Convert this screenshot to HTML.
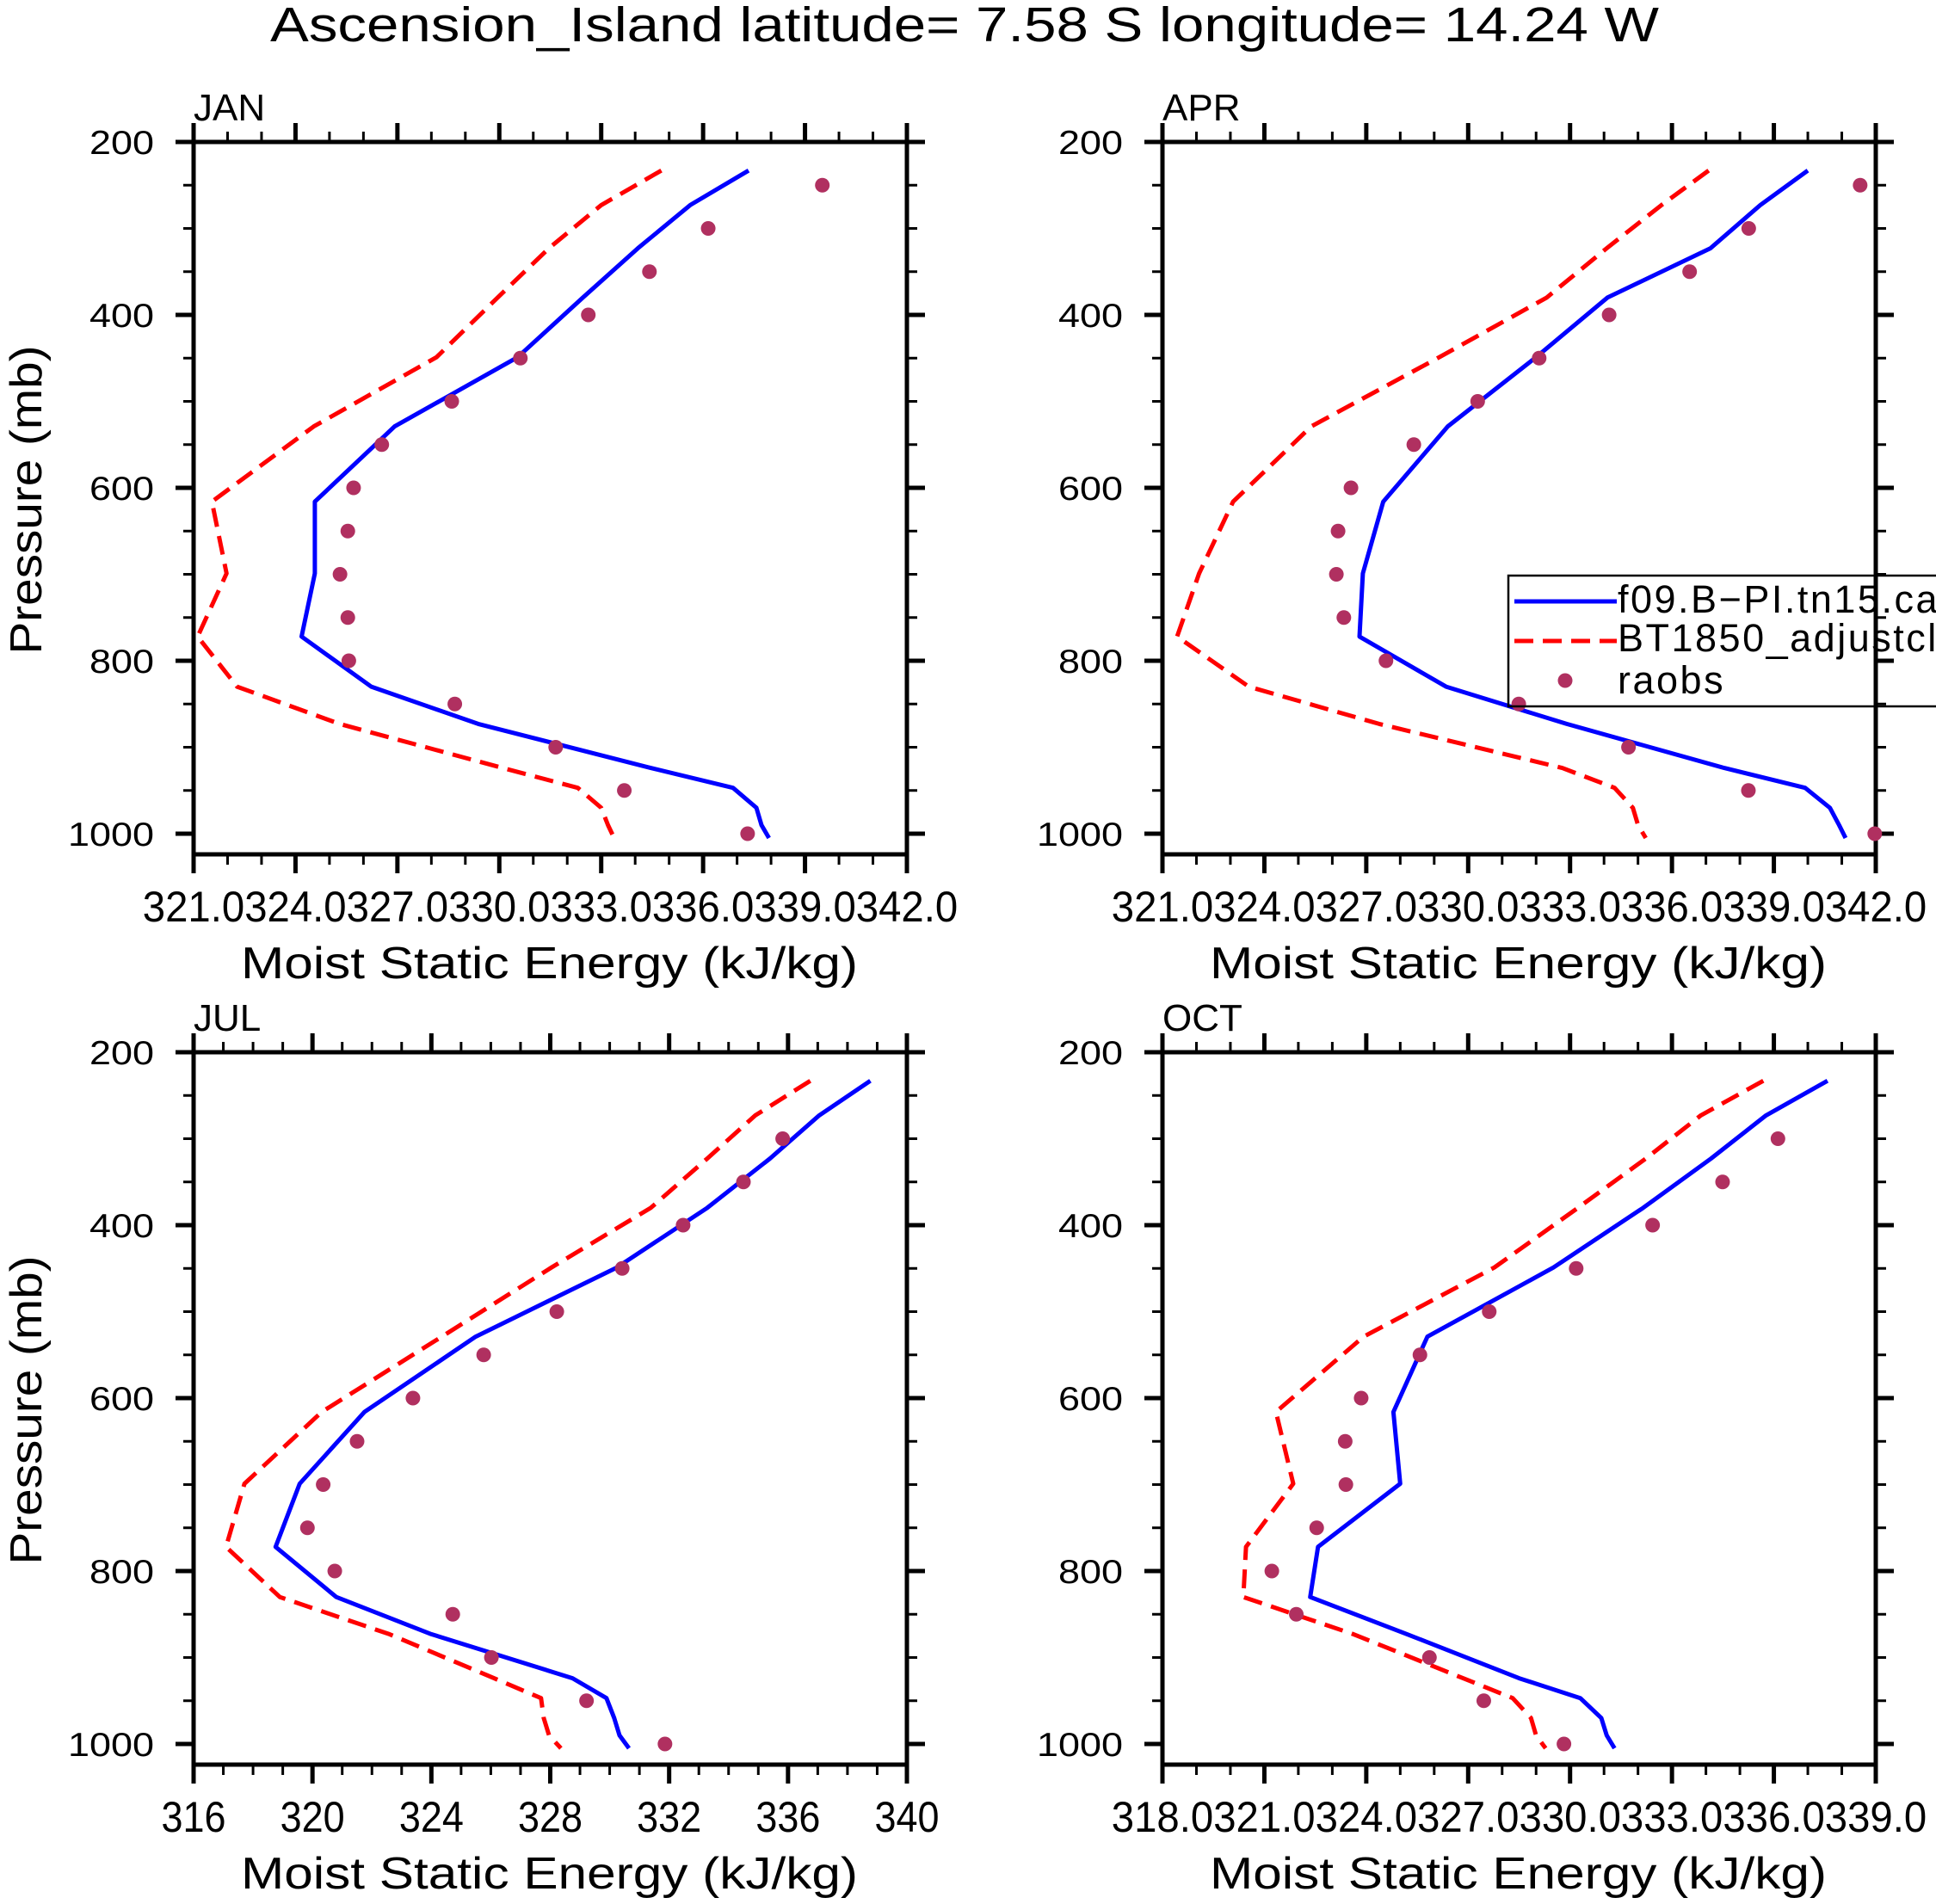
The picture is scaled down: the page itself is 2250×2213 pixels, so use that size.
<!DOCTYPE html>
<html><head><meta charset="utf-8"><style>
html,body{margin:0;padding:0;background:#fff;}
svg{display:block;font-family:"Liberation Sans",sans-serif;}
</style></head><body>
<svg id="fig" xmlns="http://www.w3.org/2000/svg" width="2250" height="2213" viewBox="0 0 2250 2213">
<rect width="2250" height="2213" fill="#fff"/>
<text x="314" y="48" font-size="57" textLength="1614" lengthAdjust="spacingAndGlyphs" fill="#000">Ascension_Island  latitude= 7.58 S longitude= 14.24 W</text>
<g id="panels"></g>
</svg>
<script>
// ---- data ----
const levels = [233, 273, 323, 380, 449, 529, 616, 699, 772, 830, 873, 924, 947, 970, 990, 1005];
const raobLevels = [250, 300, 350, 400, 450, 500, 550, 600, 650, 700, 750, 800, 850, 900, 950, 1000];

const janModel = [337.34, 335.62, 334.08, 332.46, 330.54, 326.92, 324.57, 324.57, 324.18, 326.23, 329.38, 334.46, 336.88, 337.57, 337.72, 337.94];
const janCtl = [334.77, 333.0, 331.46, 329.95, 328.15, 324.54, 321.54, 321.97, 321.12, 322.28, 325.3, 330.1, 332.31, 333.0, 333.2, 333.38];
const janObs = [339.51, 336.15, 334.42, 332.62, 330.62, 328.6, 326.54, 325.71, 325.54, 325.31, 325.54, 325.57, 328.69, 331.66, 333.68, 337.31];

const aprModel = [340.0, 338.6, 337.13, 334.1, 332.0, 329.4, 327.5, 326.9, 326.8, 329.35, 332.9, 337.54, 339.92, 340.65, 340.92, 341.11];
const aprCtl = [337.08, 335.69, 334.08, 332.31, 329.15, 325.38, 323.08, 322.08, 321.43, 323.54, 327.38, 332.77, 334.31, 334.85, 335.0, 335.23];
const aprObs = [341.54, 338.26, 336.52, 334.15, 332.09, 330.28, 328.4, 326.55, 326.17, 326.12, 326.34, 327.58, 331.49, 334.72, 338.25, 341.97];

const julModel = [338.77, 337.05, 335.39, 333.28, 330.24, 325.49, 321.75, 319.57, 318.76, 320.8, 324.0, 328.75, 329.89, 330.15, 330.33, 330.65];
const julCtl = [336.75, 334.9, 333.28, 331.38, 328.04, 324.35, 320.31, 317.71, 317.09, 318.9, 322.59, 326.11, 327.69, 327.78, 327.96, 328.36];
const julObs = [null, 335.82, 334.5, 332.47, 330.42, 328.22, 325.76, 323.38, 321.5, 320.36, 319.83, 320.75, 324.72, 326.02, 329.22, 331.86];

const octModel = [337.58, 335.77, 334.15, 332.15, 329.51, 325.8, 324.8, 325.0, 322.58, 322.35, 325.2, 328.5, 330.3, 330.92, 331.08, 331.31];
const octCtl = [335.69, 333.85, 332.23, 330.23, 327.77, 323.92, 321.34, 321.85, 320.46, 320.38, 323.62, 326.85, 328.31, 328.85, 329.0, 329.28];
const octObs = [null, 336.12, 334.49, 332.43, 330.18, 327.62, 325.58, 323.85, 323.38, 323.4, 322.54, 321.22, 321.94, 325.86, 327.46, 329.82];

const panelNames = ["JAN", "APR", "JUL", "OCT"];
const xMins = [321, 321, 316, 318];
const xMaxs = [342, 342, 340, 339];
const xMajorSteps = [3, 3, 4, 3];
const xDecimals = [1, 1, 0, 1];
const yTicks = [200, 400, 600, 800, 1000];
const legendLabels = ["f09.B\u2212PI.tn15.cam5_control", "BT1850_adjustcld_test", "raobs"];

const models = [janModel, aprModel, julModel, octModel];
const ctls = [janCtl, aprCtl, julCtl, octCtl];
const obs = [janObs, aprObs, julObs, octObs];

// ---- drawing ----
const NS = "http://www.w3.org/2000/svg";
const root = document.getElementById("panels");
function mk(tag, attrs, parent) {
  const e = document.createElementNS(NS, tag);
  for (const k in attrs) e.setAttribute(k, attrs[k]);
  (parent || root).appendChild(e);
  return e;
}
const origins = [[225, 165], [1351, 165], [225, 1223], [1351, 1223]];
const W = 829, H0 = 804, HB = 828;

panelNames.forEach((name, i) => {
  const [ox, oy] = origins[i];
  const g = mk("g", {});
  
  
  const xs = v => ox + (v - xMins[i]) / (xMaxs[i] - xMins[i]) * W;
  const ys = p => oy + (p - 200) / 800 * H0;

  const lab = mk("text", {x: ox, y: oy - 25, "font-size": 44, fill: "#000"}, g);
  lab.textContent = name;
  
  

  for (let p = 200; p <= 1000; p += 50) {
    const major = p % 200 === 0;
    const L = major ? 21 : 12;
    const y = ys(p);
    mk("line", {x1: ox - L, x2: ox, y1: y, y2: y, stroke: "#000", "stroke-width": major ? 5 : 3}, g);
    mk("line", {x1: ox + W, x2: ox + W + L, y1: y, y2: y, stroke: "#000", "stroke-width": major ? 5 : 3}, g);
  }
  yTicks.forEach(t => {
    const s = String(t);
    const tl = mk("text", {x: ox - 46, y: ys(t) + 14, "font-size": 39, "text-anchor": "end", textLength: 25 * s.length, lengthAdjust: "spacingAndGlyphs", fill: "#000"}, g);
    tl.textContent = s;
    
    
  });

  for (let v = xMins[i]; v <= xMaxs[i] + 1e-6; v += 1) {
    const major = Math.abs((v - xMins[i]) % xMajorSteps[i]) < 1e-6;
    const L = major ? 22 : 12;
    const x = xs(v);
    mk("line", {x1: x, x2: x, y1: oy - L, y2: oy, stroke: "#000", "stroke-width": major ? 5 : 3}, g);
    mk("line", {x1: x, x2: x, y1: oy + HB, y2: oy + HB + L, stroke: "#000", "stroke-width": major ? 5 : 3}, g);
  }
  for (let v = xMins[i]; v <= xMaxs[i] + 1e-6; v += xMajorSteps[i]) {
    const step = xMajorSteps[i];
    const lw = xDecimals[i] ? step / (xMaxs[i] - xMins[i]) * W : 75;
    const tl = mk("text", {x: xs(v), y: oy + HB + 78, "font-size": 50, "text-anchor": "middle", textLength: lw, lengthAdjust: "spacingAndGlyphs", fill: "#000"}, g);
    tl.textContent = v.toFixed(xDecimals[i]);
    
    
  }

  const box = mk("rect", {x: ox, y: oy, width: W, height: HB, fill: "none", stroke: "#000", "stroke-width": 5}, g);
  
  

  const xt = mk("text", {x: ox + 55, y: oy + HB + 144, "font-size": 52, textLength: 717, lengthAdjust: "spacingAndGlyphs", fill: "#000"}, g);
  xt.textContent = "Moist Static Energy (kJ/kg)";
  
  
  if (i % 2 === 0) {
    const yc = oy + HB / 2 + 2;
    const yt = mk("text", {x: 0, y: 0, "font-size": 52, "text-anchor": "middle", textLength: 359, lengthAdjust: "spacingAndGlyphs", fill: "#000", transform: `translate(48,${yc}) rotate(-90)`}, g);
    yt.textContent = "Pressure (mb)";
    
    
  }

  const pts = arr => arr.map((v, k) => xs(v).toFixed(1) + "," + ys(levels[k]).toFixed(1)).join(" ");
  const red = mk("polyline", {points: pts(ctls[i]), fill: "none", stroke: "#ff0000", "stroke-width": 5, "stroke-dasharray": "22 11", "stroke-linejoin": "round"}, g);
  
  
  const blue = mk("polyline", {points: pts(models[i]), fill: "none", stroke: "#0000ff", "stroke-width": 5, "stroke-linejoin": "round"}, g);
  
  
  obs[i].forEach((v, k) => {
    if (v === null) return;
    const c = mk("circle", {cx: xs(v), cy: ys(raobLevels[k]), r: 8.5, fill: "#b03060"}, g);
    
    
  });
});

const lg = mk("g", {});


mk("rect", {x: 1753, y: 669, width: 600, height: 152, fill: "none", stroke: "#000", "stroke-width": 2.5}, lg);
const l1 = mk("line", {x1: 1760, x2: 1879, y1: 699, y2: 699, stroke: "#0000ff", "stroke-width": 5}, lg);


const l2 = mk("line", {x1: 1760, x2: 1879, y1: 745, y2: 745, stroke: "#ff0000", "stroke-width": 5, "stroke-dasharray": "22 11"}, lg);


const l3 = mk("circle", {cx: 1819, cy: 791, r: 8.5, fill: "#b03060"}, lg);


[712, 757, 806].forEach((y, k) => {
  const t = mk("text", {x: 1880, y: y, "font-size": 45, "letter-spacing": 2.5, fill: "#000"}, lg);
  t.textContent = legendLabels[k];
  
  
});
</script>
</body></html>
